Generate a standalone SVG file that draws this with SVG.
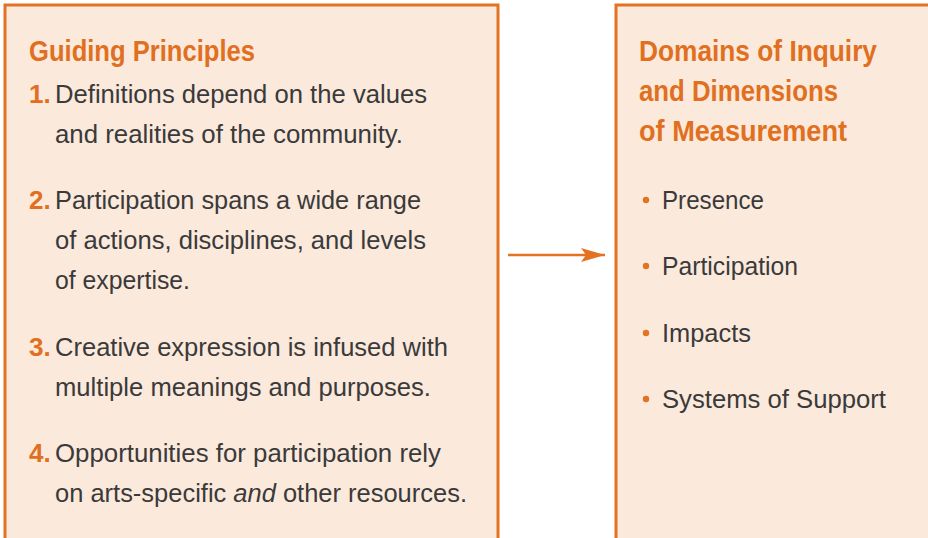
<svg xmlns="http://www.w3.org/2000/svg" width="928" height="538" viewBox="0 0 928 538">
<defs>
<style>
.box{fill:#FBE9DC;stroke:#E37222;stroke-width:3}
.title{font-family:"Liberation Sans Narrow","Liberation Sans",Arial,sans-serif;font-weight:bold;font-size:29px;fill:#E07020}
.num{font-family:"Liberation Sans Narrow","Liberation Sans",Arial,sans-serif;font-weight:bold;font-size:26px;fill:#E07020}
.body{font-family:"Liberation Sans",Arial,sans-serif;font-size:25px;fill:#3A3A3A}
.conn{stroke:#E37222;stroke-width:2.6;fill:none}
.dot{fill:#E37222}
</style>
<marker id="arrow" viewBox="0 0 24 14" refX="24" refY="7" markerWidth="24" markerHeight="14" markerUnits="userSpaceOnUse" orient="auto">
<path d="M0,0 L24,7 L0,14 L5,7 Z" fill="#E37222"/>
</marker>
</defs>
<rect width="928" height="538" fill="#FFFFFF"/>
<g id="guiding-principles">
<rect class="box" x="5" y="5" width="493" height="545"/>
<text class="title" x="29" y="61" textLength="226" lengthAdjust="spacingAndGlyphs">Guiding Principles</text>
<text class="num" x="29" y="103">1.</text>
<text class="body" x="55" y="103" textLength="372" lengthAdjust="spacingAndGlyphs">Definitions depend on the values</text>
<text class="body" x="55" y="143" textLength="348" lengthAdjust="spacingAndGlyphs">and realities of the community.</text>
<text class="num" x="29" y="209">2.</text>
<text class="body" x="55" y="209" textLength="366" lengthAdjust="spacingAndGlyphs">Participation spans a wide range</text>
<text class="body" x="55" y="249" textLength="371" lengthAdjust="spacingAndGlyphs">of actions, disciplines, and levels</text>
<text class="body" x="55" y="289" textLength="135" lengthAdjust="spacingAndGlyphs">of expertise.</text>
<text class="num" x="29" y="356">3.</text>
<text class="body" x="55" y="356" textLength="393" lengthAdjust="spacingAndGlyphs">Creative expression is infused with</text>
<text class="body" x="55" y="396" textLength="376" lengthAdjust="spacingAndGlyphs">multiple meanings and purposes.</text>
<text class="num" x="29" y="462">4.</text>
<text class="body" x="55" y="462" textLength="386" lengthAdjust="spacingAndGlyphs">Opportunities for participation rely</text>
<text class="body" x="55" y="502" textLength="412" lengthAdjust="spacingAndGlyphs">on arts-specific <tspan font-style="italic">and</tspan> other resources.</text>
</g>
<g id="domains">
<rect class="box" x="616" y="5" width="330" height="545"/>
<text class="title" x="639" y="61" textLength="238" lengthAdjust="spacingAndGlyphs">Domains of Inquiry</text>
<text class="title" x="639" y="101" textLength="199" lengthAdjust="spacingAndGlyphs">and Dimensions</text>
<text class="title" x="639" y="141" textLength="208" lengthAdjust="spacingAndGlyphs">of Measurement</text>
<circle class="dot" cx="646" cy="200" r="3.2"/>
<text class="body" x="662" y="209" textLength="102" lengthAdjust="spacingAndGlyphs">Presence</text>
<circle class="dot" cx="646" cy="266" r="3.2"/>
<text class="body" x="662" y="275" textLength="136" lengthAdjust="spacingAndGlyphs">Participation</text>
<circle class="dot" cx="646" cy="333" r="3.2"/>
<text class="body" x="662" y="342" textLength="89" lengthAdjust="spacingAndGlyphs">Impacts</text>
<circle class="dot" cx="646" cy="399" r="3.2"/>
<text class="body" x="662" y="408" textLength="224" lengthAdjust="spacingAndGlyphs">Systems of Support</text>
</g>
<g id="connectors">
<line class="conn" x1="508" y1="255" x2="605" y2="255" marker-end="url(#arrow)"/>
</g>
</svg>
